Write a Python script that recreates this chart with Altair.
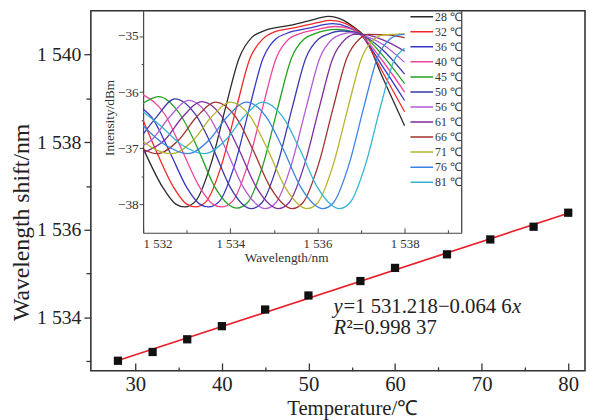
import altair as alt
import pandas as pd

# ---------------- main data ----------------
temps = [28, 32, 36, 40, 45, 50, 56, 60, 66, 71, 76, 80]
peak_wl = [1533.01, 1533.21, 1533.50, 1533.80, 1534.18, 1534.50,
           1534.83, 1535.13, 1535.44, 1535.78, 1536.07, 1536.39]

x_ticks = [30, 40, 50, 60, 70, 80]
x_minor = [35, 45, 55, 65, 75]
y_ticks = [1534, 1536, 1538, 1540]
y_minor = [1533, 1535, 1537, 1539]

# ---------------- inset data ----------------
inset_x_ticks = [1532, 1534, 1536, 1538]
inset_x_minor = [1533, 1535, 1537, 1539]
inset_y_ticks = [-35, -36, -37, -38]
inset_y_minor = [-35.5, -36.5, -37.5]

legend_labels = ["28 ℃", "32 ℃", "36 ℃", "40 ℃", "45 ℃", "50 ℃",
                 "56 ℃", "61 ℃", "66 ℃", "71 ℃", "76 ℃", "81 ℃"]
legend_colors = ["#2b2b2b", "#f02828", "#3737c8", "#f0449b", "#22a022", "#3a3aa8",
                 "#b45ad2", "#7d2d9b", "#a0322d", "#b4b42d", "#3c82e1", "#32b4d2"]

c28_x = [1532.0, 1532.45, 1532.75, 1532.95, 1533.2, 1533.55, 1533.9, 1534.2, 1534.5, 1534.8,
         1535.3, 1535.8, 1536.25, 1536.6, 1536.85, 1537.05, 1537.5, 1538.0]
c28_y = [-37.0, -37.7, -38.0, -38.05, -37.95, -37.3, -36.25, -35.4, -35.02, -34.9,
         -34.82, -34.73, -34.65, -34.72, -34.85, -34.98, -35.75, -36.6]
c32_x = [1532.0, 1532.3, 1532.7, 1533.0, 1533.2, 1533.45, 1533.8, 1534.15, 1534.45, 1534.75,
         1535.0, 1535.5, 1536.0, 1536.3, 1536.65, 1537.0, 1537.5, 1538.0]
c32_y = [-36.5, -37.05, -37.7, -38.0, -38.05, -37.95, -37.3, -36.25, -35.4, -35.05,
         -34.93, -34.85, -34.76, -34.72, -34.78, -34.97, -35.65, -36.35]
c36_x = [1532.0, 1532.2, 1532.6, 1533.0, 1533.3, 1533.5, 1533.75, 1534.1, 1534.45, 1534.75,
         1535.05, 1535.3, 1535.8, 1536.35, 1536.7, 1537.0, 1537.5, 1538.0]
c36_y = [-36.3, -36.45, -37.05, -37.7, -38.0, -38.05, -37.95, -37.3, -36.25, -35.4,
         -35.05, -34.95, -34.86, -34.78, -34.84, -34.98, -35.55, -36.15]
c40_x = [1532.0, 1532.5, 1532.9, 1533.3, 1533.6, 1533.8, 1534.05, 1534.4, 1534.75, 1535.05,
         1535.35, 1535.55, 1536.0, 1536.4, 1536.75, 1537.0, 1537.5, 1538.0]
c40_y = [-36.05, -36.4, -37.05, -37.7, -38.0, -38.05, -37.95, -37.3, -36.25, -35.4,
         -35.05, -34.97, -34.88, -34.83, -34.87, -34.98, -35.45, -36.0]
c45_x = [1532.0, 1532.35, 1532.85, 1533.25, 1533.65, 1533.95, 1534.15, 1534.4, 1534.75, 1535.1,
         1535.4, 1535.7, 1535.9, 1536.45, 1536.8, 1537.05, 1537.5, 1538.0]
c45_y = [-36.2, -36.08, -36.4, -37.0, -37.7, -38.0, -38.07, -37.97, -37.3, -36.25,
         -35.4, -35.05, -34.97, -34.88, -34.92, -34.99, -35.35, -35.85]
c50_x = [1532.0, 1532.3, 1532.73, 1533.2, 1533.6, 1534.0, 1534.28, 1534.48, 1534.73, 1535.08,
         1535.43, 1535.73, 1536.03, 1536.23, 1536.55, 1536.85, 1537.05, 1537.5, 1538.0]
c50_y = [-36.75, -36.45, -36.12, -36.4, -37.0, -37.7, -38.0, -38.08, -37.97, -37.3,
         -36.25, -35.4, -35.05, -34.97, -34.91, -34.93, -34.99, -35.25, -35.68]
c56_x = [1532.0, 1532.2, 1532.6, 1533.05, 1533.5, 1533.9, 1534.3, 1534.6, 1534.8, 1535.05,
         1535.4, 1535.75, 1536.05, 1536.35, 1536.55, 1536.75, 1537.05, 1537.5, 1538.0]
c56_y = [-36.95, -36.85, -36.45, -36.15, -36.42, -37.02, -37.7, -38.0, -38.08, -37.97,
         -37.3, -36.25, -35.4, -35.05, -34.97, -34.94, -34.99, -35.15, -35.47]
c61_x = [1532.0, 1532.5, 1532.9, 1533.35, 1533.8, 1534.2, 1534.6, 1534.9, 1535.1, 1535.35,
         1535.7, 1536.05, 1536.35, 1536.65, 1536.85, 1537.05, 1537.5, 1538.0]
c61_y = [-37.08, -36.85, -36.45, -36.17, -36.43, -37.03, -37.7, -38.0, -38.08, -37.97,
         -37.3, -36.25, -35.4, -35.05, -34.97, -34.97, -35.07, -35.27]
c66_x = [1532.0, 1532.32, 1532.82, 1533.22, 1533.67, 1534.12, 1534.52, 1534.92, 1535.22, 1535.42,
         1535.67, 1536.02, 1536.37, 1536.67, 1536.97, 1537.17, 1537.6, 1538.0]
c66_y = [-37.02, -37.1, -36.85, -36.45, -36.18, -36.44, -37.03, -37.7, -38.0, -38.08,
         -37.97, -37.3, -36.25, -35.4, -35.05, -34.97, -34.98, -35.03]
c71_x = [1532.0, 1532.16, 1532.66, 1533.16, 1533.56, 1534.01, 1534.46, 1534.86, 1535.26, 1535.56,
         1535.76, 1536.01, 1536.36, 1536.71, 1537.01, 1537.31, 1537.51, 1538.0]
c71_y = [-36.88, -36.97, -37.1, -36.85, -36.45, -36.18, -36.44, -37.03, -37.7, -38.0,
         -38.08, -37.97, -37.3, -36.25, -35.4, -35.05, -34.98, -34.96]
c76_x = [1532.0, 1532.52, 1533.02, 1533.52, 1533.92, 1534.37, 1534.82, 1535.22, 1535.62, 1535.92,
         1536.12, 1536.37, 1536.72, 1537.07, 1537.37, 1537.67, 1537.87, 1538.0]
c76_y = [-36.6, -36.95, -37.1, -36.85, -36.45, -36.18, -36.44, -37.03, -37.7, -38.0,
         -38.08, -37.97, -37.3, -36.25, -35.4, -35.05, -34.98, -34.97]
c81_x = [1532.0, 1532.4, 1532.9, 1533.4, 1533.9, 1534.3, 1534.75, 1535.2, 1535.6, 1536.0,
         1536.3, 1536.5, 1536.75, 1537.1, 1537.45, 1537.75, 1538.0]
c81_y = [-36.35, -36.6, -36.95, -37.1, -36.85, -36.45, -36.18, -36.44, -37.03, -37.7,
         -38.0, -38.08, -37.97, -37.3, -36.25, -35.45, -35.22]

curve_xs = [c28_x, c32_x, c36_x, c40_x, c45_x, c50_x, c56_x, c61_x, c66_x, c71_x, c76_x, c81_x]
curve_ys = [c28_y, c32_y, c36_y, c40_y, c45_y, c50_y, c56_y, c61_y, c66_y, c71_y, c76_y, c81_y]

fit_eq = ["y", "=1 531.218−0.064 6", "x"]
fit_r2 = ["R", "²=0.998 37"]

# ---------------- layout / style ----------------
W, H = 501, 365
SERIF = "Liberation Serif"
INK = "#222222"
main_x_domain = [24.87, 81.94]
main_y_domain = [1532.78, 1541.0]
inset_x_domain = [1532.0, 1539.31]
inset_y_domain = [-38.51, -34.55]
inset_left, inset_right, inset_bottom = 53, 376, 225

xs = alt.Scale(domain=main_x_domain, nice=False, zero=False)
ys = alt.Scale(domain=main_y_domain, nice=False, zero=False)
ixs = alt.Scale(domain=inset_x_domain, range=[inset_left, inset_right], nice=False, zero=False)
iys = alt.Scale(domain=inset_y_domain, range=[inset_bottom, 0], nice=False, zero=False)

spaced = "replace(format(datum.value, ','), ',', ' ')"

df = pd.DataFrame({"T": temps, "wl": peak_wl})
base = alt.Chart(df)

fit = base.transform_regression("T", "wl").mark_line(color="#e8202a", strokeWidth=1.7).encode(
    x=alt.X("T:Q", scale=xs, axis=alt.Axis(orient="top", offset=-H, values=x_ticks, tickSize=8,
                                          tickColor="#333", tickWidth=1.3, labels=False,
                                          domain=False, grid=False, title=None)),
    y=alt.Y("wl:Q", scale=ys, axis=alt.Axis(orient="left", values=y_minor, tickSize=5,
                                           tickColor="#333", tickWidth=1.3, labels=False,
                                           domain=False, grid=False, title=None)),
)

pts = base.mark_square(size=70, color="#111111", opacity=1).encode(
    x=alt.X("T:Q", scale=xs, axis=alt.Axis(
        orient="bottom", values=x_ticks, ticks=False, domain=False, grid=False,
        labelFont=SERIF, labelFontSize=21, labelColor=INK, labelPadding=3,
        title="Temperature/℃", titleFont=SERIF, titleFontSize=21, titleFontWeight="normal",
        titleColor=INK, titleX=265, titleY=38, titleBaseline="middle")),
    y=alt.Y("wl:Q", scale=ys, axis=alt.Axis(
        orient="left", values=y_ticks, tickSize=7, tickColor="#333", tickWidth=1.3,
        domain=False, grid=False, labelExpr=spaced,
        labelFont=SERIF, labelFontSize=20, labelColor=INK, labelPadding=3,
        title="Wavelength shift/nm", titleFont=SERIF, titleFontSize=24, titleFontWeight="normal",
        titleColor=INK, titleX=-70, titleY=214, titleBaseline="middle")),
)

ann_x = 52.9
ann_y1 = 1534.11
ann_y2 = 1533.62


def ann(text, yv, dx, italic, axis_x=None):
    d = pd.DataFrame({"x": [ann_x], "y": [yv], "t": [text]})
    return alt.Chart(d).mark_text(
        align="left", baseline="alphabetic", font=SERIF, fontSize=21, color=INK, dx=dx,
        fontStyle="italic" if italic else "normal",
    ).encode(
        x=alt.X("x:Q", scale=xs, axis=axis_x),
        y=alt.Y("y:Q", scale=ys, axis=None),
        text="t:N",
    )


minor_x_axis = alt.Axis(orient="top", offset=-H, values=x_minor, tickSize=4, tickColor="#333",
                        tickWidth=1.3, labels=False, domain=False, grid=False, title=None)

t1 = ann(fit_eq[0], ann_y1, 0, True, minor_x_axis)
t2 = ann(fit_eq[1], ann_y1, 10, False)
t3 = ann(fit_eq[2], ann_y1, 181, True)
t4 = ann(fit_r2[0], ann_y2, 0, True)
t5 = ann(fit_r2[1], ann_y2, 13, False)

main = alt.layer(fit, pts, t1, t2, t3, t4, t5).resolve_axis(x="independent", y="independent")

# ---------------- inset ----------------
rows = []
for lab, cx, cy in zip(legend_labels, curve_xs, curve_ys):
    for a, b in zip(cx, cy):
        rows.append({"wl": a, "inten": b, "label": lab})
spec_df = pd.DataFrame(rows)

curves = alt.Chart(spec_df).mark_line(strokeWidth=1.3, interpolate="monotone").encode(
    x=alt.X("wl:Q", scale=ixs, axis=alt.Axis(
        orient="bottom", offset=-(H - inset_bottom), values=inset_x_ticks, labelExpr=spaced,
        ticks=False, domain=True, domainColor="#444", domainWidth=1.2, grid=False,
        labelFont=SERIF, labelFontSize=13, labelColor="#333", labelPadding=5,
        title="Wavelength/nm", titleFont=SERIF, titleFontSize=13.5, titleFontWeight="normal",
        titleColor="#333", titleX=198, titleY=25, titleBaseline="middle")),
    y=alt.Y("inten:Q", scale=iys, axis=alt.Axis(
        orient="left", offset=-inset_left, values=inset_y_ticks, tickSize=4, tickColor="#444",
        domain=True, domainColor="#444", domainWidth=1.2, grid=False,
        labelFont=SERIF, labelFontSize=13.5, labelColor="#333", labelPadding=1,
        title="Intensity/dBm", titleFont=SERIF, titleFontSize=13.5, titleFontWeight="normal",
        titleColor="#333", titleX=-34, titleY=108, titleBaseline="middle")),
    color=alt.Color("label:N", scale=alt.Scale(domain=legend_labels, range=legend_colors),
                    legend=alt.Legend(orient="none", legendX=323, legendY=-0.5, title=None,
                                      symbolType="stroke", symbolSize=529, symbolStrokeWidth=1.5,
                                      clipHeight=13, rowPadding=2.25, padding=0,
                                      labelFont=SERIF, labelFontSize=12, labelColor="#333",
                                      labelOffset=1)),
)

border_df = pd.DataFrame({"x": [inset_x_domain[1]], "y": [inset_y_domain[0]], "y2": [inset_y_domain[1]]})
border = alt.Chart(border_df).mark_rule(color="#444", strokeWidth=1.3).encode(
    x=alt.X("x:Q", scale=ixs, axis=alt.Axis(orient="top", offset=-inset_bottom, values=inset_x_ticks,
                                           tickSize=5, tickColor="#444", labels=False, domain=False,
                                           grid=False, title=None)),
    y=alt.Y("y:Q", scale=iys, axis=alt.Axis(orient="left", offset=-inset_left, values=inset_y_minor,
                                           tickSize=2, tickColor="#444", labels=False, domain=False,
                                           grid=False, title=None)),
    y2="y2:Q",
)

dummy_df = pd.DataFrame({"x": [inset_x_domain[0]], "y": [inset_y_domain[0]]})
dummy = alt.Chart(dummy_df).mark_point(opacity=0).encode(
    x=alt.X("x:Q", scale=ixs, axis=alt.Axis(orient="top", offset=-inset_bottom, values=inset_x_minor,
                                           tickSize=3, tickColor="#444", labels=False, domain=False,
                                           grid=False, title=None)),
    y=alt.Y("y:Q", scale=iys, axis=None),
)

inset = alt.layer(curves, border, dummy).resolve_axis(x="independent", y="independent")

chart = alt.layer(main, inset).resolve_scale(
    x="independent", y="independent", color="independent"
).properties(
    width=W, height=H,
    autosize=alt.AutoSizeParams(type="none"),
    padding={"left": 84, "top": 0, "right": 1, "bottom": 47},
    background="white",
).configure_view(stroke="#333", strokeWidth=1.6).configure_axis(grid=False)

chart.save("out.html", embed_options={"renderer": "svg", "actions": False})
